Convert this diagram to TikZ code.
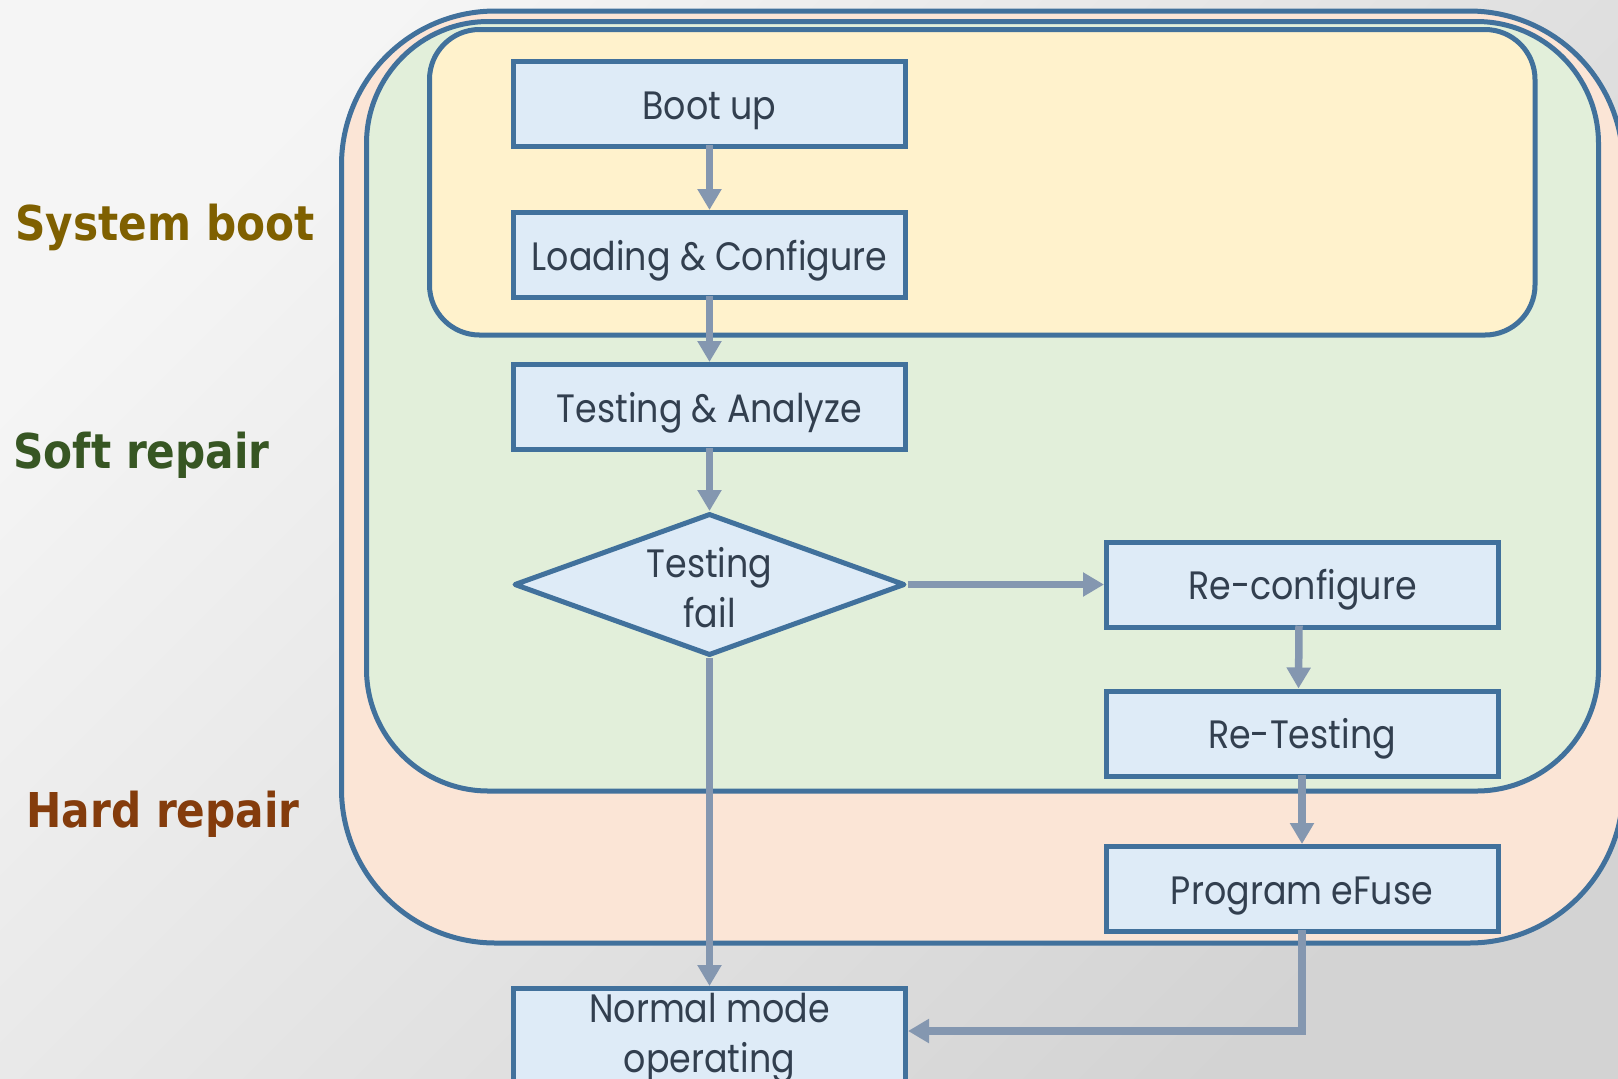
\documentclass[tikz,border=0pt]{standalone}
\usepackage{fontspec}
\setmainfont{Poppins}[FakeStretch=0.88]
\newfontfamily\tagfont{DejaVu Sans}
\usetikzlibrary{arrows.meta,shapes.geometric}

\definecolor{edgeblue}{HTML}{41719C}
\definecolor{boxfill}{HTML}{DEEBF7}
\definecolor{flowgray}{HTML}{8497B0}
\definecolor{inktext}{HTML}{323F4F}
\definecolor{bootfill}{HTML}{FFF2CC}
\definecolor{softfill}{HTML}{E2EFDA}
\definecolor{hardfill}{HTML}{FBE5D6}
\definecolor{boottag}{HTML}{7F6000}
\definecolor{softtag}{HTML}{375623}
\definecolor{hardtag}{HTML}{843C0C}
\definecolor{bglight}{HTML}{F5F5F5}
\definecolor{bgdark}{HTML}{D3D3D3}

\tikzset{
  region/.style={draw=edgeblue, line width=2.5pt},
  steptext/.style={inner sep=0pt, text=inktext, align=center,
    font=\fontsize{19.8}{25}\selectfont},
  framed/.style={steptext, draw=edgeblue, fill=boxfill, line width=2.5pt,
    minimum width=196pt, minimum height=42.5pt},
  stepbox/.style={framed, text height=20pt, text depth=5pt},
  decision/.style={diamond, draw=edgeblue, fill=boxfill, line width=2.5pt,
    line join=round, minimum width=195.5pt, minimum height=71pt, inner sep=0pt},
  flow/.style={draw=flowgray, line width=3.75pt,
    -{Triangle[width=11.5pt,length=10.5pt]}},
  tag/.style={anchor=base west, inner sep=0pt,
    font=\tagfont\bfseries\fontsize{24}{28}\selectfont}
}

\begin{document}
\begin{tikzpicture}[x=0.5pt,y=-0.5pt]
  \useasboundingbox (0,0) rectangle (1618,1078);
  \clip (0,0) rectangle (1618,1078);

  % backdrop
  \shade[top color=bglight, bottom color=bgdark, shading angle=45]
    (0,0) rectangle (1618,1078);

  % nested phase regions
  \draw[region, fill=hardfill, rounded corners=77pt] (341.5,11) rectangle (1623,943);
  \draw[region, fill=softfill, rounded corners=61pt] (366.5,21.5) rectangle (1598.5,791);
  \draw[region, fill=bootfill, rounded corners=25pt] (429.5,29.5) rectangle (1535,335);

  % phase names
  \node[tag, text=boottag] (tagboot) at (15,240) {\scalebox{0.88}[1]{System boot}};
  \node[tag, text=softtag] (tagsoft) at (13,468) {\scalebox{0.88}[1]{Soft repair}};
  \node[tag, text=hardtag] (taghard) at (26,827) {\scalebox{0.88}[1]{Hard repair}};

  % steps
  \node[stepbox] (boot) at (709.5,104) {Boot up};
  \node[stepbox] (load) at (709.5,255) {Loading \& Configure};
  \node[stepbox] (analyze) at (709.5,407) {Testing \& Analyze};
  \node[decision] (fail) at (709.5,584.5) {};
  \node[steptext] (failtext) at (709.5,588) {Testing\\fail};
  \node[stepbox] (reconf) at (1302.5,584.5) {Re-configure};
  \node[stepbox] (retest) at (1302,733.5) {Re-Testing};
  \node[stepbox] (efuse) at (1302,889) {Program eFuse};
  \node[framed, minimum height=49.5pt] (normal) at (709.5,1038) {Normal mode\\operating};

  % flow
  \draw[flow] ([yshift=2pt]boot.south) -- (load.north);
  \draw[flow] ([yshift=2pt]load.south) -- (analyze.north);
  \draw[flow] ([yshift=2pt]analyze.south) -- (fail.north);
  \draw[flow] (fail.east) -- (fail.east -| reconf.west);
  \draw[flow] ([xshift=-1.75pt,yshift=2pt]reconf.south) -- ([xshift=-1.75pt]retest.north);
  \draw[flow] ([yshift=2pt]retest.south) -- (efuse.north);
  \draw[flow] (fail.south) -- (normal.north);
  \draw[flow] ([yshift=2pt]efuse.south) |- ([yshift=3.5pt]normal.east);
\end{tikzpicture}
\end{document}
